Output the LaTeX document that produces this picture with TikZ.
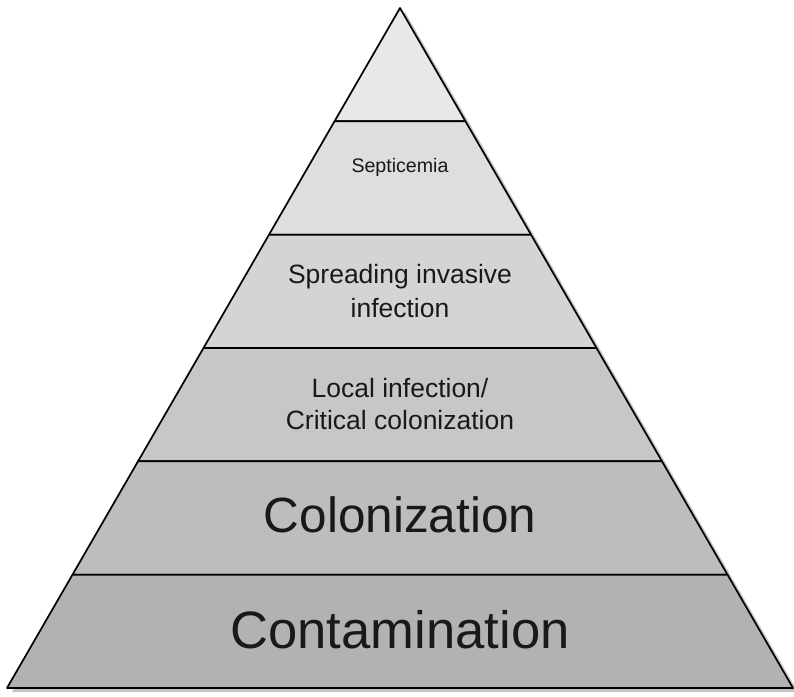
\documentclass[tikz,border=0pt]{standalone}
\usepackage{fontspec}
\setmainfont{Liberation Sans}
\usetikzlibrary{calc}
\definecolor{shadowgray}{gray}{0.62}

\begin{document}
\begin{tikzpicture}[x=1pt,y=-1pt,
    tier/.style={draw=black, line width=1.7pt, line join=round},
    label/.style={text=black!90, text centered, align=center}]
        \useasboundingbox (0,0) rectangle (794,696);

        % corners %
        \coordinate (apex) at (400,8);
        \coordinate (bl) at (7,688);
        \coordinate (br) at (793,688);

        % shadow %
        \fill[shadowgray, opacity=0.6] ($(apex)+(5,4)$) -- ($(br)+(5,4)$) -- ($(bl)+(5,4)$) -- cycle;

        % tiers, lightest at the top %
        \foreach \k/\shade in {1/91,2/87,3/83,4/78,5/74,6/70}{
          \pgfmathsetmacro{\lo}{(\k-1)/6}
          \pgfmathsetmacro{\hi}{\k/6}
          \filldraw[tier, fill=white!\shade!black]
            ($(apex)!\lo!(bl)$) -- ($(apex)!\hi!(bl)$) -- ($(apex)!\hi!(br)$) -- ($(apex)!\lo!(br)$) -- cycle;
        }

        % labels %
        \node[label, anchor=base, font=\fontsize{19.6}{23}\selectfont] (septic) at (400,172) {Septicemia};
        \node[label, font=\fontsize{26.5}{34}\selectfont] (spread) at (400,291.5) {Spreading invasive\\infection};
        \node[label, font=\fontsize{26.5}{31.5}\selectfont] (local) at (400,404) {Local infection/\\Critical colonization};
        \node[label, anchor=base, font=\fontsize{49.5}{56}\selectfont] (colon) at (400,532) {Colonization};
        \node[label, anchor=base, font=\fontsize{52.6}{60}\selectfont] (contam) at (400,648) {Contamination};
      \end{tikzpicture}
\end{document}
